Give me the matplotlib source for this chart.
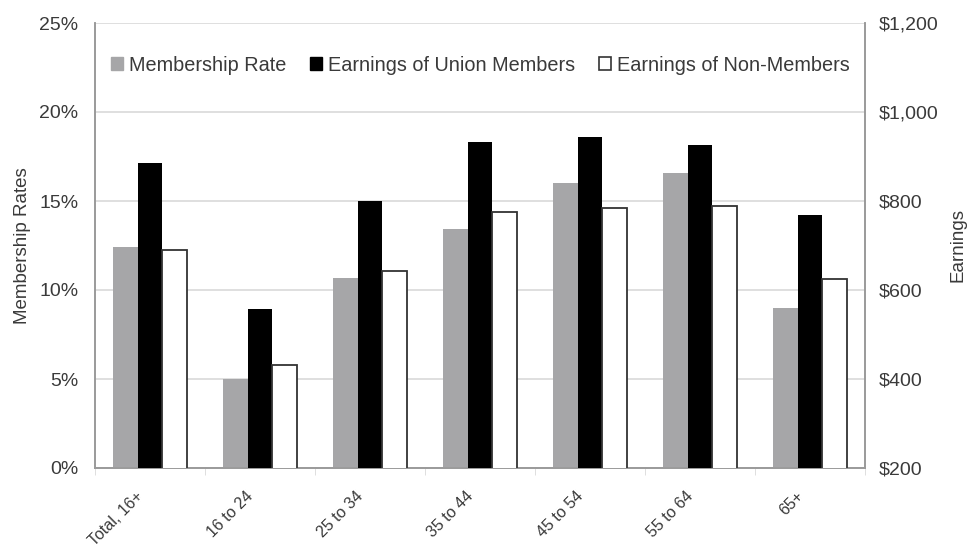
import matplotlib
matplotlib.use("Agg")
import matplotlib.pyplot as plt
from matplotlib.patches import Patch
from matplotlib.transforms import ScaledTranslation
import numpy as np

plt.rcParams['font.family'] = ['Liberation Sans', 'DejaVu Sans']

# data
groups = ['Total, 16+', '16 to 24', '25 to 34', '35 to 44', '45 to 54', '55 to 64', '65+']
membership_rate = [12.4, 5.0, 10.7, 13.4, 16.0, 16.6, 9.0]          # percent
earn_union = [885, 557, 800, 932, 943, 926, 769]                     # dollars / week
earn_nonunion = [690, 431, 643, 775, 784, 789, 625]

series_names = ['Membership Rate', 'Earnings of Union Members', 'Earnings of Non-Members']

txt = '#3a3a3a'
grid = '#d9d9d9'
gray = '#a6a6a8'

fig = plt.figure(figsize=(9.71, 5.48), dpi=100)
ax = fig.add_axes([95/971, 80/548, 770/971, 445/548])
ax2 = ax.twinx()

x = np.arange(len(groups))
w = 0.223

ax.bar(x - w, membership_rate, w, color=gray, zorder=3)
ax2.bar(x, earn_union, w, color='black', zorder=3)
ax2.bar(x + w, earn_nonunion, w, color='white', edgecolor='#333333', linewidth=1.3, zorder=3)

ax.set_ylim(0, 25)
ax.set_yticks(np.arange(0, 26, 5))
ax.set_yticklabels([f'{v}%' for v in range(0, 26, 5)])
ax2.set_ylim(200, 1200)
ax2.set_yticks(np.arange(200, 1201, 200))
ax2.set_yticklabels([f'${v:,}' for v in range(200, 1201, 200)])

ax.set_xlim(-0.5, len(groups) - 0.5)
ax.set_xticks(x)
ax.set_xticklabels(groups, rotation=45, ha='right', va='center', rotation_mode='anchor')
ax.set_xticks(np.arange(-0.5, len(groups)), minor=True)
ax.tick_params(axis='x', which='major', length=0, pad=18.5, labelsize=11.5, colors=txt)
ax.tick_params(axis='x', which='minor', length=5, color=grid, direction='out')
ax.tick_params(axis='y', length=0, pad=12, labelsize=14, colors=txt)
ax2.tick_params(axis='y', length=0, pad=10, labelsize=14, colors=txt)

# nudge the slanted labels a little left so their ends sit under the group
shift = ScaledTranslation(-0.09, 0, fig.dpi_scale_trans)
for lab in ax.get_xticklabels():
    lab.set_transform(lab.get_transform() + shift)

ax.yaxis.grid(True, color=grid, linewidth=1.2, zorder=0)
ax.set_axisbelow(True)

for a in (ax, ax2):
    a.spines['top'].set_visible(False)
    for s in ('left', 'right', 'bottom'):
        a.spines[s].set_color('#9a9a9a')
        a.spines[s].set_linewidth(1.2)

ax.set_ylabel('Membership Rates', fontsize=13.5, color=txt, labelpad=6)
ax2.set_ylabel('Earnings', fontsize=13.5, color=txt, labelpad=8)

handles = [Patch(facecolor=gray, edgecolor=gray),
           Patch(facecolor='black', edgecolor='black'),
           Patch(facecolor='white', edgecolor='#333333', linewidth=1.2)]
ax2.legend(handles, series_names, loc='center', bbox_to_anchor=(0.5, 0.905), ncol=3,
           frameon=False, fontsize=14.3, handlelength=0.6, handleheight=0.6,
           handletextpad=0.3, columnspacing=1.2, labelcolor=txt)

fig.savefig('out.png', dpi=100)
